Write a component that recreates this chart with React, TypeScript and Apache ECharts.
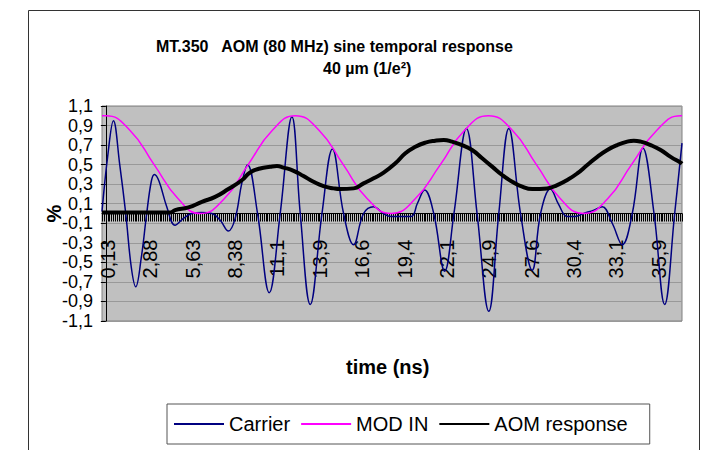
import React, { useEffect, useRef } from "react";
import * as echarts from "echarts";

// ---- Data ----
const xTickLabelValues = [0.125, 2.875, 5.625, 8.375, 11.125, 13.875, 16.625, 19.375, 22.125, 24.875, 27.625, 30.375, 33.125, 35.875];
const xTickLabels = ["0,13", "2,88", "5,63", "8,38", "11,1", "13,9", "16,6", "19,4", "22,1", "24,9", "27,6", "30,4", "33,1", "35,9"];
const yTickLabels = ["-1,1", "-0,9", "-0,7", "-0,5", "-0,3", "-0,1", "0,1", "0,3", "0,5", "0,7", "0,9", "1,1"];
const seriesNames = ["Carrier", "MOD IN", "AOM response"];

const carrierT = [-0.25, 0.13, 0.49, 0.9, 1.29, 1.65, 1.94, 2.3, 2.65, 2.95, 3.15, 3.45, 3.95, 4.49, 5.03, 5.58, 6.2, 6.88, 7.42, 7.95, 8.39, 8.82, 9.19, 9.84, 10.6, 11.31, 12.07, 12.61, 13.26, 14.02, 14.7, 15.42, 16.07, 16.72, 17.37, 18.0, 18.5, 19.8, 20.2, 20.68, 21.27, 21.98, 22.58, 23.39, 24.08, 24.84, 25.49, 26.14, 26.9, 27.66, 28.2, 28.84, 29.38, 29.92, 30.45, 30.99, 31.66, 32.2, 32.85, 33.5, 34.15, 34.84, 35.56, 36.25, 36.9, 37.375];
const carrierV = [0.02, 0.6, 0.95, 0.5, 0.0, -0.55, -0.75, -0.45, 0.0, 0.33, 0.4, 0.33, 0.07, -0.12, -0.05, 0.0, 0.01, 0.0, -0.07, -0.18, -0.05, 0.31, 0.5, 0.0, -0.81, 0.0, 0.99, 0.0, -0.93, 0.0, 0.66, 0.0, -0.32, 0.0, 0.07, 0.0, -0.03, -0.03, 0.1, 0.24, 0.0, -0.59, 0.0, 0.87, 0.0, -1.0, 0.0, 0.87, 0.0, -0.58, 0.0, 0.25, 0.09, -0.03, -0.03, 0.0, 0.035, 0.07, -0.1, -0.32, 0.0, 0.67, 0.0, -0.93, 0.0, 0.72];

const modT = [-0.25, 0.0, 1.57, 3.13, 4.69, 6.12, 7.68, 9.23, 10.79, 12.29, 13.84, 15.4, 16.96, 18.51, 20.07, 21.7, 23.26, 24.82, 26.38, 27.93, 29.49, 30.99, 32.55, 34.1, 35.73, 37.29, 37.375];
const modV = [1.0, 1.0, 0.85, 0.5, 0.15, 0.0, 0.15, 0.5, 0.85, 1.0, 0.85, 0.5, 0.15, 0.0, 0.15, 0.5, 0.85, 1.0, 0.85, 0.5, 0.15, 0.0, 0.15, 0.5, 0.85, 1.0, 1.0];

const aomT = [-0.25, 4.2, 4.49, 5.36, 6.23, 7.09, 7.95, 8.82, 9.36, 10.01, 10.66, 11.1, 11.53, 12.18, 12.82, 13.47, 14.12, 14.77, 15.21, 16.07, 16.72, 17.37, 18.02, 18.78, 19.43, 20.08, 20.73, 21.37, 21.92, 22.46, 23.11, 23.76, 24.41, 25.06, 25.71, 26.36, 27.01, 27.66, 28.63, 29.28, 29.93, 30.58, 31.23, 31.88, 32.53, 33.17, 33.82, 34.25, 34.7, 35.34, 35.99, 36.64, 37.29, 37.375];
const aomV = [0.01, 0.01, 0.035, 0.062, 0.12, 0.17, 0.25, 0.34, 0.42, 0.46, 0.478, 0.485, 0.47, 0.437, 0.383, 0.325, 0.28, 0.257, 0.25, 0.257, 0.308, 0.36, 0.418, 0.513, 0.616, 0.683, 0.725, 0.745, 0.752, 0.735, 0.7, 0.65, 0.565, 0.48, 0.394, 0.325, 0.274, 0.25, 0.257, 0.291, 0.342, 0.41, 0.496, 0.58, 0.65, 0.7, 0.735, 0.745, 0.735, 0.7, 0.65, 0.58, 0.52, 0.51];

const FONT = "'Liberation Sans', Arial, sans-serif";

export default function App() {
  const ref = useRef<HTMLDivElement>(null);
  useEffect(() => {
    if (!ref.current) return;
    const chart = echarts.init(ref.current, undefined, { renderer: "svg" });
    const pairs = (ts: number[], vs: number[]) => ts.map((t, i) => [t, vs[i]]);
    chart.setOption({
      animation: false,
      backgroundColor: "#ffffff",
      textStyle: { fontFamily: FONT },
      title: [
        {
          text: "MT.350   AOM (80 MHz) sine temporal response",
          left: 156,
          top: 38,
          padding: 0,
          textStyle: { fontSize: 16, fontWeight: "bold", color: "#000", fontFamily: FONT },
        },
        {
          text: "40 µm (1/e²)",
          left: 323,
          top: 60,
          padding: 0,
          textStyle: { fontSize: 16, fontWeight: "bold", color: "#000", fontFamily: FONT },
        },
        {
          text: "time (ns)",
          left: 346,
          top: 357,
          padding: 0,
          textStyle: { fontSize: 20, fontWeight: "bold", color: "#000", fontFamily: FONT },
        },
      ],
      legend: {
        data: seriesNames,
        left: 167,
        top: 404,
        orient: "horizontal",
        itemWidth: 50,
        itemHeight: 14,
        itemGap: 10,
        padding: [10, 22, 10, 6],
        borderColor: "#555",
        borderWidth: 1,
        itemStyle: { opacity: 0 },
        textStyle: { fontSize: 20, color: "#000", fontFamily: FONT },
      },
      grid: {
        left: 102,
        top: 106,
        right: 29,
        bottom: 129,
        show: true,
        backgroundColor: "#C0C0C0",
        borderColor: "#808080",
        borderWidth: 1,
      },
      xAxis: {
        type: "value",
        position: "bottom",
        offset: -107.5,
        min: -0.25,
        max: 37.375,
        interval: 0.125,
        axisLine: { onZero: false, lineStyle: { color: "#000", width: 1 } },
        axisTick: { show: true, length: 8, lineStyle: { color: "#000", width: 1 } },
        splitLine: { show: false },
        axisLabel: {
          rotate: 90,
          margin: 26,
          fontSize: 20,
          color: "#000",
          fontFamily: FONT,
          formatter: (v: number) => {
            const i = xTickLabelValues.findIndex((x) => Math.abs(x - v) < 1e-6);
            return i >= 0 ? xTickLabels[i] : "";
          },
        },
      },
      yAxis: {
        type: "value",
        min: -1.1,
        max: 1.1,
        interval: 0.2,
        name: "%",
        nameLocation: "middle",
        nameRotate: 90,
        nameGap: 38,
        nameMoveOverlap: false,
        nameTextStyle: { fontSize: 20, fontWeight: "bold", color: "#000", fontFamily: FONT },
        axisLine: { show: true, lineStyle: { color: "#000", width: 1 } },
        axisTick: { show: true, length: 5, lineStyle: { color: "#000" } },
        splitLine: { show: true, lineStyle: { color: "#999", width: 1 } },
        axisLabel: {
          margin: 9,
          fontSize: 18,
          color: "#000",
          fontFamily: FONT,
          showMinLabel: true,
          showMaxLabel: true,
          formatter: (v: number) => yTickLabels[Math.round((v + 1.1) / 0.2)] ?? "",
        },
      },
      graphic: [
        {
          type: "rect",
          shape: { x: 28.5, y: 10.5, width: 671, height: 470 },
          style: { fill: "none", stroke: "#333", lineWidth: 1 },
          silent: true,
        },
      ],
      series: [
        {
          name: seriesNames[0],
          type: "line",
          data: pairs(carrierT, carrierV),
          symbol: "none",
          smooth: 0.4,
          lineStyle: { color: "#000080", width: 1.5 },
          itemStyle: { color: "#000080" },
        },
        {
          name: seriesNames[1],
          type: "line",
          data: pairs(modT, modV),
          symbol: "none",
          smooth: true,
          lineStyle: { color: "#FF00FF", width: 1.5 },
          itemStyle: { color: "#FF00FF" },
        },
        {
          name: seriesNames[2],
          type: "line",
          data: pairs(aomT, aomV),
          symbol: "none",
          smooth: true,
          lineStyle: { color: "#000000", width: 4 },
          itemStyle: { color: "#000000" },
        },
      ],
    });
    return () => chart.dispose();
  }, []);
  return (
    <div
      ref={ref}
      style={{ position: "fixed", left: 0, top: 0, width: 711, height: 450, background: "#fff" }}
    />
  );
}
